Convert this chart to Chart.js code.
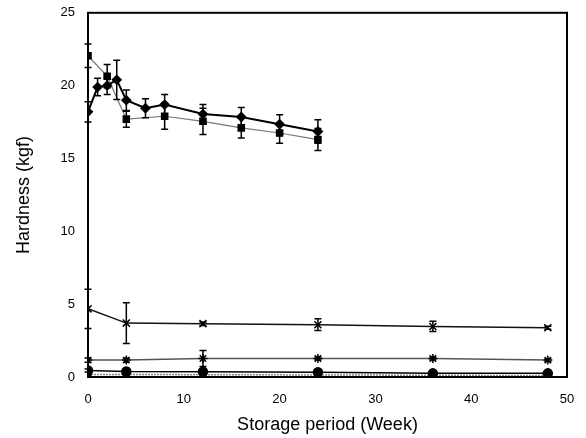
<!DOCTYPE html>
<html>
<head>
<meta charset="utf-8">
<script src="https://cdn.jsdelivr.net/npm/chart.js@4/dist/chart.umd.min.js"></script>
<style>
    html, body { margin: 0; padding: 0; background: #fff; }
    #wrap { width: 586px; height: 438px; }
</style>
</head>
<body>
<div id="wrap"><canvas id="hardness"></canvas></div>
<script>
// weeks sampled
const weeksEarly = [0, 1, 2, 3, 4, 6, 8, 12, 16, 20, 24];
const weeksSquare = [0, 2, 4, 8, 12, 16, 20, 24];
const weeksLong = [0, 4, 12, 24, 36, 48];

// hardness values (kgf) and standard deviations
const diamond = [18.2, 19.9, 20.0, 20.4, 19.0, 18.45, 18.7, 18.05, 17.85, 17.35, 16.85];
const diamondErr = [0.7, 0.6, 0.6, 1.35, 0.7, 0.65, 0.7, 0.65, 0.65, 0.65, 0.8];
const square = [22.05, 20.65, 17.7, 17.9, 17.55, 17.1, 16.75, 16.3];
const squareErr = [0.8, 0.8, 0.55, 0.9, 0.9, 0.7, 0.7, 0.75];
const cross = [4.68, 3.7, 3.66, 3.59, 3.47, 3.38];
const crossErr = [1.35, 1.4, 0.12, 0.4, 0.35, 0.1];
const star = [1.16, 1.16, 1.27, 1.27, 1.27, 1.16];
const starErr = [0.15, 0.15, 0.55, 0.1, 0.1, 0.1];
const circle = [0.45, 0.38, 0.36, 0.33, 0.25, 0.25];
const circleErr = [0.1, 0.1, 0.1, 0.1, 0.05, 0.05];
const flat = [0.18, 0.17, 0.16, 0.14, 0.12, 0.1];

const yTicks = [0, 5, 10, 15, 20, 25];
const xTicks = [0, 10, 20, 30, 40, 50];

const pts = (xs, ys) => xs.map((x, i) => ({ x: x, y: ys[i] }));

// error bars, drawn through the chart scales
const errorBars = {
    id: 'errorBars',
    afterDatasetsDraw(chart) {
        const ctx = chart.ctx;
        const xs = chart.scales.x, ys = chart.scales.y;
        ctx.save();
        ctx.strokeStyle = '#000';
        ctx.lineWidth = 1.5;
        chart.data.datasets.forEach(ds => {
            if (!ds.err) return;
            ds.data.forEach((p, i) => {
                const e = ds.err[i];
                const px = xs.getPixelForValue(p.x);
                const top = ys.getPixelForValue(p.y + e);
                const bot = ys.getPixelForValue(p.y - e);
                ctx.beginPath();
                ctx.moveTo(px, top); ctx.lineTo(px, bot);
                ctx.moveTo(px - 3.5, top); ctx.lineTo(px + 3.5, top);
                ctx.moveTo(px - 3.5, bot); ctx.lineTo(px + 3.5, bot);
                ctx.stroke();
            });
        });
        ctx.restore();
    }
};

// frame round the plot
const frame = {
    id: 'frame',
    afterDraw(chart) {
        const a = chart.chartArea;
        const ctx = chart.ctx;
        ctx.save();
        ctx.strokeStyle = '#000';
        ctx.lineWidth = 2;
        ctx.strokeRect(a.left, a.top, a.right - a.left, a.bottom - a.top);
        ctx.restore();
    }
};

const font = { family: '"Liberation Sans", Arial, sans-serif', size: 13 };
const titleFont = { family: font.family, size: 18 };

new Chart(document.getElementById('hardness'), {
    type: 'line',
    data: {
        datasets: [
            { data: pts(weeksEarly, diamond), err: diamondErr, borderColor: '#000', borderWidth: 2,
              pointStyle: 'rectRot', pointRadius: 4, backgroundColor: '#000', pointBorderColor: '#000' },
            { data: pts(weeksSquare, square), err: squareErr, borderColor: '#777', borderWidth: 1.2,
              pointStyle: 'rect', pointRadius: 4.5, backgroundColor: '#000', pointBorderColor: '#000' },
            { data: pts(weeksLong, cross), err: crossErr, borderColor: '#111', borderWidth: 1.5,
              pointStyle: 'crossRot', pointRadius: 5, pointBorderWidth: 1.5, pointBorderColor: '#000' },
            { data: pts(weeksLong, star), err: starErr, borderColor: '#555', borderWidth: 1.5,
              pointStyle: 'star', pointRadius: 4.5, pointBorderWidth: 1.5, pointBorderColor: '#000' },
            { data: pts(weeksLong, circle), err: circleErr, borderColor: '#000', borderWidth: 1.5,
              pointStyle: 'circle', pointRadius: 4.5, backgroundColor: '#000', pointBorderColor: '#000' },
            { data: pts(weeksLong, flat), borderColor: '#888', borderWidth: 1.5, borderDash: [2, 1],
              pointStyle: 'circle', pointRadius: 3, backgroundColor: '#000', pointBorderColor: '#000' }
        ]
    },
    options: {
        animation: false,
        responsive: true,
        maintainAspectRatio: false,
        layout: { padding: { top: 8, right: 19, left: 0, bottom: 0 } },
        plugins: { legend: { display: false }, tooltip: { enabled: false } },
        scales: {
            x: {
                type: 'linear', min: 0, max: 50,
                afterBuildTicks: s => { s.ticks = xTicks.map(v => ({ value: v })); },
                afterFit: s => { s.height = 61; },
                grid: { display: false },
                border: { display: false },
                ticks: { font: font, color: '#000', padding: 7, maxRotation: 0 },
                title: { display: true, text: 'Storage period (Week)', font: titleFont, color: '#000', padding: { top: 2, bottom: 2 } }
            },
            y: {
                min: 0, max: 25,
                afterBuildTicks: s => { s.ticks = yTicks.map(v => ({ value: v })); },
                afterFit: s => { s.width = 88; },
                grid: { display: false },
                border: { display: false },
                ticks: { font: font, color: '#000', padding: 5 },
                title: { display: true, text: 'Hardness (kgf)', font: titleFont, color: '#000', padding: { top: 13, bottom: 4 } }
            }
        }
    },
    plugins: [errorBars, frame]
});
</script>
</body>
</html>
